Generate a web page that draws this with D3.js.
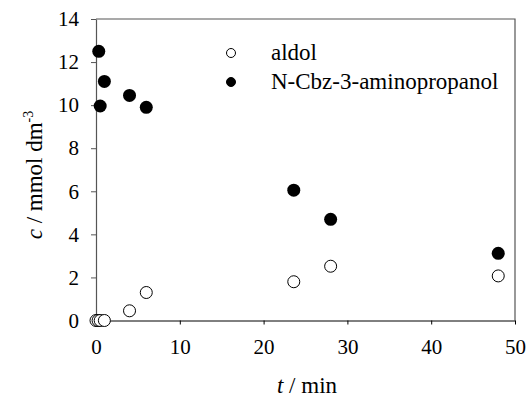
<!DOCTYPE html>
<meta charset="utf-8">
<style>
body { margin: 0; background: #fff; }
text, tspan { font-family: "Liberation Serif", serif !important; }
</style>
<body>
<script src="https://d3js.org/d3.v7.min.js"></script>
<script>

// aldol (open circles)
var aldolT = [0, 0.25, 0.5, 1, 4, 6, 23.6, 28, 48];
var aldolC = [0, 0, 0, 0, 0.45, 1.3, 1.8, 2.52, 2.07];
// N-Cbz-3-aminopropanol (filled circles)
var cbzT = [0.33, 0.5, 1, 4, 6, 23.6, 28, 48];
var cbzC = [12.5, 9.96, 11.1, 10.45, 9.9, 6.05, 4.7, 3.12];

var xTicks = [0, 10, 20, 30, 40, 50];
var yTicks = [0, 2, 4, 6, 8, 10, 12, 14];
var seriesNames = ["aldol", "N-Cbz-3-aminopropanol"];

var width = 527, height = 399;
var margin = {left: 96, top: 19, right: 12, bottom: 78.5};
var serif = "Liberation Serif";

var svg = d3.select("body").append("svg")
    .attr("width", width)
    .attr("height", height);

var x = d3.scaleLinear().domain([0, 50]).range([margin.left, width - margin.right]);
var y = d3.scaleLinear().domain([0, 14]).range([height - margin.bottom, margin.top]);

// frame (top and right)
svg.append("path")
    .attr("d", "M" + x(0) + "," + y(14) + "H" + x(50) + "V" + y(0))
    .attr("fill", "none")
    .attr("stroke", "#555")
    .attr("stroke-width", 1.2);

svg.append("g")
    .attr("transform", "translate(0," + y(0) + ")")
    .call(d3.axisBottom(x).tickValues(xTicks).tickSize(4).tickPadding(15).tickSizeOuter(0))
    .attr("font-family", serif)
    .attr("font-size", 21)
    .call(function(g) {
        g.selectAll("text").attr("dy", "0.71em").attr("fill", "#000").style("font-family", serif);
        g.selectAll("line").attr("stroke", "#000");
    });

svg.append("g")
    .attr("transform", "translate(" + x(0) + ",0)")
    .call(d3.axisLeft(y).tickValues(yTicks).tickSize(5).tickPadding(12).tickSizeOuter(0))
    .attr("font-family", serif)
    .attr("font-size", 21)
    .call(function(g) {
        g.select(".domain").attr("stroke", "#555").attr("stroke-width", 1.2);
        g.selectAll("line").attr("stroke", "#555");
        g.selectAll("text").attr("fill", "#000").style("font-family", serif);
    });

// points
svg.append("g").selectAll("circle")
    .data(cbzT.map(function(t, i) { return [t, cbzC[i]]; }))
    .enter().append("circle")
    .attr("cx", function(d) { return x(d[0]); })
    .attr("cy", function(d) { return y(d[1]); })
    .attr("r", 6.5)
    .attr("fill", "#000");

svg.append("g").selectAll("circle")
    .data(aldolT.map(function(t, i) { return [t, aldolC[i]]; }))
    .enter().append("circle")
    .attr("cx", function(d) { return x(d[0]); })
    .attr("cy", function(d) { return y(d[1]); })
    .attr("r", 6)
    .attr("fill", "#fff")
    .attr("stroke", "#000")
    .attr("stroke-width", 1);

// legend
var legend = svg.append("g").attr("transform", "translate(231,53)");
seriesNames.forEach(function(name, i) {
    legend.append("circle")
        .attr("cx", 0)
        .attr("cy", i * 29)
        .attr("r", 4.5)
        .attr("fill", i === 0 ? "#fff" : "#000")
        .attr("stroke", "#000");
    legend.append("text")
        .attr("x", 40)
        .attr("y", i * 29 + 7)
        .style("font-family", serif)
        .attr("font-size", 23)
        .text(name);
});

// axis titles
var xt = svg.append("text")
    .attr("x", 307)
    .attr("y", 393)
    .attr("text-anchor", "middle")
    .style("font-family", serif)
    .attr("font-size", 23);
xt.append("tspan").attr("font-style", "italic").text("t");
xt.append("tspan").text(" / min");

var yt = svg.append("text")
    .attr("transform", "translate(42,175) rotate(-90)")
    .attr("text-anchor", "middle")
    .style("font-family", serif)
    .attr("font-size", 23);
yt.append("tspan").attr("font-style", "italic").text("c");
yt.append("tspan").text(" / mmol dm");
yt.append("tspan").attr("font-size", 14).attr("dy", -9).text("-3");

</script>
</body>
